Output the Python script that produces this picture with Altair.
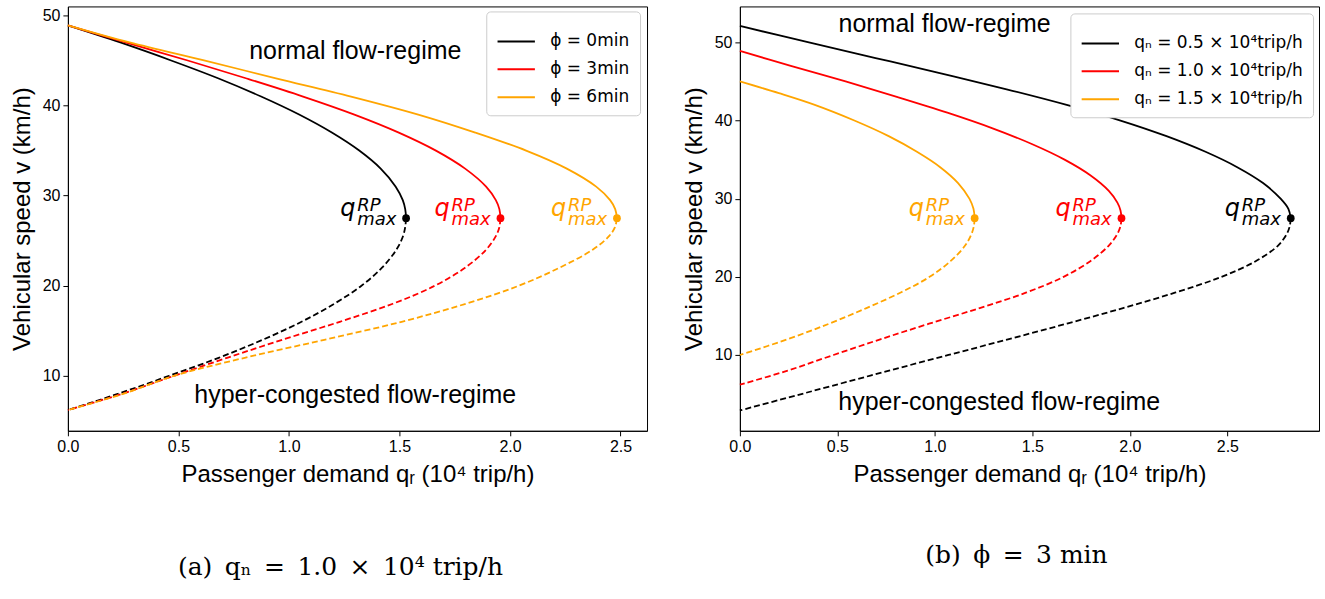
import altair as alt
import pandas as pd

# ---------------- values ----------------
# (a) q_n = 1.0 x10^4 trip/h, phi = 0 / 3 / 6 min
L_SERIES = ["ϕ = 0min", "ϕ = 3min", "ϕ = 6min"]
COLORS = ["#000000", "#ff0000", "#ffa500"]

V_SOLID_L = [48.9, 47, 45, 43, 41, 39, 37, 35, 33, 31, 29.5, 28.5, 27.5]
V_DASH_L = [27.5, 26.5, 25.5, 24, 22, 20, 18, 16, 14, 12, 10, 8, 6.2]

L0_SOLID_Q = [0, 0.237, 0.467, 0.682, 0.874, 1.046, 1.194, 1.318, 1.415, 1.483, 1.515, 1.526, 1.53]
L0_DASH_Q = [1.53, 1.526, 1.516, 1.486, 1.421, 1.328, 1.205, 1.057, 0.881, 0.682, 0.458, 0.226, 0]

RED_SOLID_Q = [0, 0.261, 0.542, 0.809, 1.064, 1.296, 1.497, 1.665, 1.797, 1.892, 1.936, 1.952, 1.957]
RED_DASH_Q = [1.957, 1.952, 1.936, 1.892, 1.797, 1.66, 1.47, 1.23, 0.97, 0.72, 0.48, 0.245, 0]

L6_SOLID_Q = [0, 0.279, 0.616, 0.946, 1.281, 1.585, 1.843, 2.073, 2.257, 2.390, 2.453, 2.476, 2.484]
L6_DASH_Q = [2.484, 2.475, 2.448, 2.374, 2.224, 2.04, 1.80, 1.51, 1.16, 0.80, 0.48, 0.25, 0]

# (b) phi = 3 min, q_n = 0.5 / 1.0 / 1.5 x10^4 trip/h
R_SERIES = ["qₙ = 0.5 × 10⁴trip/h", "qₙ = 1.0 × 10⁴trip/h", "qₙ = 1.5 × 10⁴trip/h"]

R05_SOLID_V = [52.1, 50, 48, 46, 44, 42, 40, 38, 36, 34, 32, 30, 28.7, 27.5]
R05_SOLID_Q = [0, 0.354, 0.696, 1.036, 1.368, 1.676, 1.952, 2.188, 2.388, 2.553, 2.683, 2.773, 2.813, 2.825]
R05_DASH_V = [27.5, 26.5, 25.5, 24, 22, 20, 18, 16, 14, 12, 10, 8, 6, 4.5, 2.9]
R05_DASH_Q = [2.825, 2.82, 2.805, 2.76, 2.645, 2.47, 2.235, 1.965, 1.675, 1.375, 1.07, 0.765, 0.465, 0.24, 0]

R15_SOLID_V = [45.0, 43.5, 42, 40, 38, 36, 34, 32, 30, 28.7, 27.5]
R15_SOLID_Q = [0, 0.200, 0.384, 0.587, 0.763, 0.908, 1.029, 1.119, 1.177, 1.198, 1.204]
R15_DASH_V = [27.5, 26.5, 25.5, 24, 22, 20, 18, 16, 14, 12, 10.0]
R15_DASH_Q = [1.204, 1.200, 1.188, 1.155, 1.080, 0.973, 0.825, 0.649, 0.457, 0.243, 0]

X_TICKS = [0.0, 0.5, 1.0, 1.5, 2.0, 2.5]
Y_TICKS = [10, 20, 30, 40, 50]

X_TITLE = "Passenger demand qᵣ (10⁴ trip/h)"
Y_TITLE = "Vehicular speed v (km/h)"
CAPTION_A = "(a)\u2002qₙ\u2002=\u20021.0\u2002×\u200210⁴ trip/h"
CAPTION_B = "(b)\u2002ϕ\u2002=\u20023 min"


def build_df(curves):
    rows = []
    for name, sq, sv, dq, dv in curves:
        for i, (q, v) in enumerate(zip(sq, sv)):
            rows.append(dict(q=q, v=v, s=name, kind="solid", i=i))
        for i, (q, v) in enumerate(zip(dq, dv)):
            rows.append(dict(q=q, v=v, s=name, kind="dashed", i=i))
    return pd.DataFrame(rows)


def panel(curves, series, xdom, ydom, legend_xy, region_texts, caption, cap_dx, cap_offset):
    df = build_df(curves)
    df_max = pd.DataFrame([dict(q=c[1][-1], v=c[2][-1], s=c[0]) for c in curves])
    df_txt = pd.DataFrame(region_texts, columns=["q", "v", "t"])

    x = alt.X("q:Q", scale=alt.Scale(domain=xdom, nice=False, zero=False),
              axis=alt.Axis(values=X_TICKS, format=".1f", title=X_TITLE, labelFlush=False))
    y = alt.Y("v:Q", scale=alt.Scale(domain=ydom, nice=False, zero=False),
              axis=alt.Axis(values=Y_TICKS, title=Y_TITLE, labelFlush=False))
    cscale = alt.Scale(domain=series, range=COLORS)
    leg = alt.Legend(title=None, orient="none", legendX=legend_xy[0], legendY=legend_xy[1],
                     symbolType="stroke", symbolSize=1400, symbolStrokeWidth=2,
                     labelFont="DejaVu Sans", labelFontSize=17, labelColor="black",
                     labelLimit=500, padding=10, strokeColor="#cccccc", fillColor="white",
                     cornerRadius=4, labelOffset=14, rowPadding=0)

    base = alt.Chart(df)
    solid = base.transform_filter("datum.kind == 'solid'").mark_line(
        strokeWidth=1.8, interpolate="catmull-rom").encode(
        x=x, y=y, color=alt.Color("s:N", scale=cscale, legend=leg), order="i:Q")
    dashed = base.transform_filter("datum.kind == 'dashed'").mark_line(
        strokeWidth=1.8, strokeDash=[6, 3], interpolate="catmull-rom").encode(
        x=x, y=y, color=alt.Color("s:N", scale=cscale, legend=None), order="i:Q")

    mbase = alt.Chart(df_max).encode(x=x, y=y, color=alt.Color("s:N", scale=cscale, legend=None))
    dots = mbase.mark_circle(size=60, opacity=1)
    tq = mbase.mark_text(text="q", font="DejaVu Sans", fontStyle="italic", fontSize=24,
                         align="left", baseline="alphabetic", dx=-66, dy=-2)
    trp = mbase.mark_text(text="RP", font="DejaVu Sans", fontStyle="italic", fontSize=18,
                          align="left", baseline="alphabetic", dx=-49, dy=-7)
    tmax = mbase.mark_text(text="max", font="DejaVu Sans", fontStyle="italic", fontSize=18,
                           align="left", baseline="alphabetic", dx=-49, dy=7)

    regions = alt.Chart(df_txt).mark_text(font="Liberation Sans", fontSize=25, color="black",
                                          align="center", baseline="middle").encode(
        x=x, y=y, text="t:N")

    return alt.layer(solid, dashed, dots, tq, trp, tmax, regions).properties(
        width=580, height=425,
        title=alt.TitleParams(text=caption, orient="bottom", font="DejaVu Serif",
                              fontSize=25, fontWeight="normal", color="black",
                              anchor="middle", frame="group", dx=cap_dx,
                              offset=cap_offset, baseline="top"))


left = panel(
    [(L_SERIES[0], L0_SOLID_Q, V_SOLID_L, L0_DASH_Q, V_DASH_L),
     (L_SERIES[1], RED_SOLID_Q, V_SOLID_L, RED_DASH_Q, V_DASH_L),
     (L_SERIES[2], L6_SOLID_Q, V_SOLID_L, L6_DASH_Q, V_DASH_L)],
    L_SERIES, [0, 2.62], [3.9, 51.0], (419, 5),
    [(1.3, 46.1, "normal flow-regime"), (1.3, 7.9, "hyper-congested flow-regime")],
    CAPTION_A, -17, 68)

right = panel(
    [(R_SERIES[0], R05_SOLID_Q, R05_SOLID_V, R05_DASH_Q, R05_DASH_V),
     (R_SERIES[1], RED_SOLID_Q, V_SOLID_L, RED_DASH_Q, V_DASH_L),
     (R_SERIES[2], R15_SOLID_Q, R15_SOLID_V, R15_DASH_Q, R15_DASH_V)],
    R_SERIES, [0, 2.97], [0.3, 54.6], (331, 7),
    [(1.05, 52.3, "normal flow-regime"), (1.33, 4.0, "hyper-congested flow-regime")],
    CAPTION_B, -13, 56)

chart = alt.hconcat(left, right, spacing=33).resolve_scale(
    color="independent", x="independent", y="independent"
).resolve_legend(color="independent").configure_view(
    stroke="black", strokeWidth=1
).configure_axis(
    grid=False, domainColor="black", tickColor="black", labelColor="black",
    titleColor="black", labelFont="Liberation Sans", titleFont="Liberation Sans",
    labelFontSize=16, titleFontSize=24, titleFontWeight="normal", tickSize=5,
    labelPadding=3, titlePadding=8
).properties(background="white", padding={"left": 9, "top": 5, "right": 5, "bottom": 5})

chart.save("out.html", embed_options={"renderer": "svg", "actions": False})
